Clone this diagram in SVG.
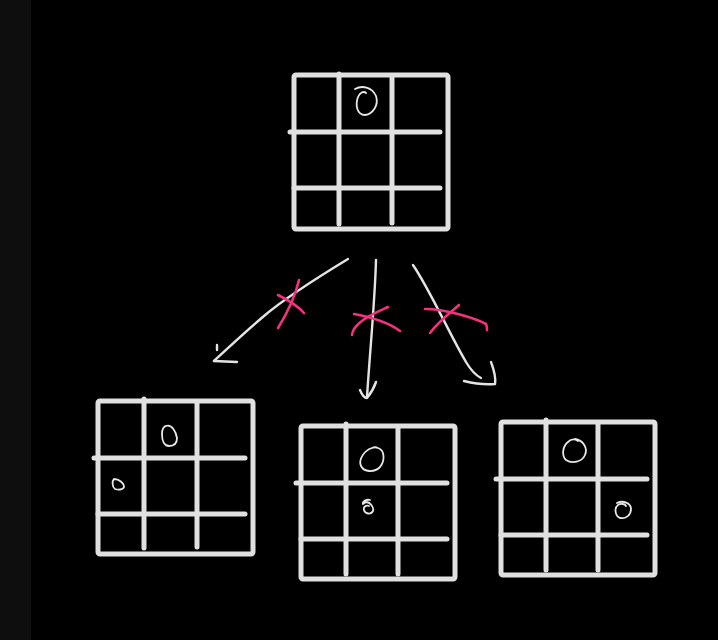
<svg xmlns="http://www.w3.org/2000/svg" width="718" height="640" viewBox="0 0 718 640">
<style>
.grid{fill:none;stroke:#e0e0e0;stroke-width:5;stroke-linecap:round;stroke-linejoin:round}
.mark{fill:none;stroke:#e8e8e8;stroke-width:1.8;stroke-linecap:round;stroke-linejoin:round}
.arr{fill:none;stroke:#e4e4e4;stroke-width:2.4;stroke-linecap:round;stroke-linejoin:round}
.x{fill:none;stroke:#f5317f;stroke-width:2.6;stroke-linecap:round;stroke-linejoin:round}
</style>
<rect width="718" height="640" fill="#000"/>
<rect width="31" height="640" fill="#0e0e0e"/>

<g id="board-top">
<rect class="grid" x="294" y="75" width="154" height="154" rx="2"/>
<path class="grid" d="M339,74 L339,224 M392,76 L392,223 M290,132 L440,132 M294,188 L440,188"/>
<path class="mark" d="M355,89 C362,85 372,87 376,96 C379,105 373,114 365,115 C357,115 355,105 358,97 C360,92 364,91 366,93"/>
</g>

<g id="board-left">
<rect class="grid" x="98" y="401" width="155" height="153" rx="2"/>
<path class="grid" d="M144,399 L144,548 M197,402 L197,547 M94,458 L245,458 M98,514 L245,514"/>
<path class="mark" d="M166,426 C172,424 176,432 177,438 C177,444 174,446 169,446 C164,446 162,440 162,434 C162,429 164,426 166,426 Z"/>
<path class="mark" d="M114,479 C119,479 124,483 124,487 C123,490 118,490 115,489 C112,487 112,481 114,479 Z"/>
</g>

<g id="board-middle">
<rect class="grid" x="301" y="426" width="154" height="153" rx="2"/>
<path class="grid" d="M346,424 L346,574 M398,428 L398,574 M296,483 L447,483 M301,539 L447,539"/>
<path class="mark" d="M378,448 C385,450 385,461 380,467 C374,473 364,472 361,466 C358,459 365,450 372,448 C374,447 376,447 378,448 Z"/>
<path class="mark" d="M370,500 C366,499 362,502 363,504 L366,502 C370,502 374,507 373,511 C371,515 365,514 364,510 C363,507 366,505 369,506"/>
</g>

<g id="board-right">
<rect class="grid" x="501" y="422" width="154" height="153" rx="2"/>
<path class="grid" d="M546,420 L546,570 M598,424 L598,570 M496,479 L647,479 M501,535 L647,535"/>
<path class="mark" d="M575,439 C583,440 588,448 585,455 C582,462 572,464 566,460 C561,455 563,446 568,442 C571,439 575,439 578,441"/>
<path class="mark" d="M617,503 C623,500 631,503 631,509 C631,515 626,519 620,518 C615,516 614,508 618,505 C621,503 625,504 626,506"/>
</g>

<g id="connectors">
<path class="arr" d="M348,259 C320,276 285,298 264,316 C245,332 228,348 214,361"/>
<path class="arr" d="M214,361 L237,362 M217,345 L217,350"/>
<path class="arr" d="M376,260 C375,300 370,350 367,397"/>
<path class="arr" d="M360,390 C362,395 364,398 367,398 C371,393 374,388 376,382"/>
<path class="arr" d="M413,265 C430,290 450,335 466,362 C472,372 477,376 481,378"/>
<path class="arr" d="M491,362 C494,370 496,378 495,384 C484,385 472,383 464,381"/>
<path class="x" d="M278,295 C288,300 298,306 304,313"/>
<path class="x" d="M299,280 C295,298 286,315 278,328"/>
<path class="x" d="M354,314 C370,317 388,322 400,331"/>
<path class="x" d="M388,307 C377,312 362,318 354,329 C353,331 352,333 352,335"/>
<path class="x" d="M425,309 C445,309 475,318 486,324 C487,326 487,328 487,330"/>
<path class="x" d="M459,305 C450,313 438,322 430,333"/>
</g>
</svg>
